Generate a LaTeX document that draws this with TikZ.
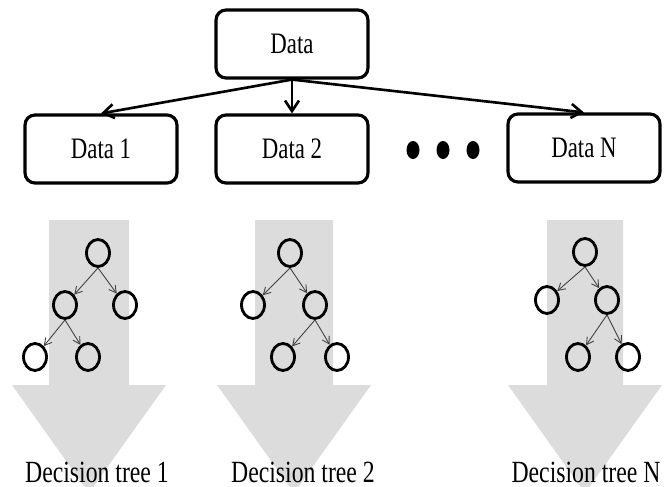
\documentclass[tikz,border=0pt]{standalone}
\usepackage{fontspec}
\setmainfont{Liberation Serif}
\usepackage{graphicx}
\usetikzlibrary{shapes.geometric,arrows.meta}
\definecolor{bandgrey}{RGB}{220,220,220}
\newcommand{\tall}[1]{\scalebox{1}[1.3]{#1}}

\begin{document}
\begin{tikzpicture}[x=0.02cm,y=-0.02cm]
	\tikzstyle{databox}=[draw,line width=1.8pt,rounded corners=0.2cm,minimum width=3.04cm,minimum height=1.36cm,font=\fontsize{13}{15}\selectfont]
	\tikzstyle{leaf}=[draw,ellipse,line width=1.6pt,minimum width=0.46cm,minimum height=0.54cm,inner sep=0pt]
	\tikzstyle{split}=[->,>={Straight Barb[length=4pt,width=4.5pt]},black!75,line width=0.5pt]
	\tikzstyle{flow}=[->,>={Straight Barb[length=6pt,width=8pt]},line width=1.5pt]
	\tikzstyle{dot}=[fill,ellipse,minimum width=0.26cm,minimum height=0.36cm,inner sep=0pt]
	\tikzstyle{caption}=[font=\fontsize{13.5}{16}\selectfont]
	\useasboundingbox (0,0) rectangle (667,487);
	% wide grey arrows behind the trees
	\fill [bandgrey] (49,220) -- (129,220) -- (129,385) -- (166,385) -- (89,493) -- (12,385) -- (49,385) -- cycle;
	\fill [bandgrey] (255,220) -- (333,220) -- (333,385) -- (371,385) -- (294,493) -- (217,385) -- (255,385) -- cycle;
	\fill [bandgrey] (547,220) -- (623,220) -- (623,385) -- (662,385) -- (585,493) -- (508,385) -- (547,385) -- cycle;
	% data boxes
	\node [databox] (data) at (292,44) {\tall{Data}};
	\node [databox] (data1) at (101,149) {\tall{Data 1}};
	\node [databox] (data2) at (292,149) {\tall{Data 2}};
	\node [databox] (dataN) at (584,148) {\tall{Data N}};
	\draw [flow] (data.south) -- (data1.north);
	\draw [flow] (data.south) -- (data2.north);
	\draw [flow] (data.south) -- (dataN.north);
	\node [dot] (dot1) at (413,150) {};
	\node [dot] (dot2) at (443,150) {};
	\node [dot] (dot3) at (473,150) {};
	% tree 1
	\node [leaf] (t1r) at (98,253) {};
	\node [leaf] (t1a) at (65,305) {};
	\node [leaf] (t1b) at (125,305) {};
	\node [leaf] (t1c) at (35,357) {};
	\node [leaf] (t1d) at (88,357) {};
	\draw [split] (t1r.south) -- (t1a);
	\draw [split] (t1r.south) -- (t1b);
	\draw [split] (t1a.south) -- (t1c);
	\draw [split] (t1a.south) -- (t1d);
	% tree 2
	\node [leaf] (t2r) at (290,253) {};
	\node [leaf] (t2a) at (253,305) {};
	\node [leaf] (t2b) at (315,305) {};
	\node [leaf] (t2c) at (283,357) {};
	\node [leaf] (t2d) at (337,357) {};
	\draw [split] (t2r.south) -- (t2a);
	\draw [split] (t2r.south) -- (t2b);
	\draw [split] (t2b.south) -- (t2c);
	\draw [split] (t2b.south) -- (t2d);
	% tree N
	\node [leaf] (tNr) at (585,252) {};
	\node [leaf] (tNa) at (547,300) {};
	\node [leaf] (tNb) at (607,300) {};
	\node [leaf] (tNc) at (578,357) {};
	\node [leaf] (tNd) at (628,357) {};
	\draw [split] (tNr.south) -- (tNa);
	\draw [split] (tNr.south) -- (tNb);
	\draw [split] (tNb.south) -- (tNc);
	\draw [split] (tNb.south) -- (tNd);
	% captions
	\node [caption] (lab1) at (97,472) {\tall{Decision tree 1}};
	\node [caption] (lab2) at (303,472) {\tall{Decision tree 2}};
	\node [caption] (labN) at (586,472) {\tall{Decision tree N}};
\end{tikzpicture}
\end{document}
